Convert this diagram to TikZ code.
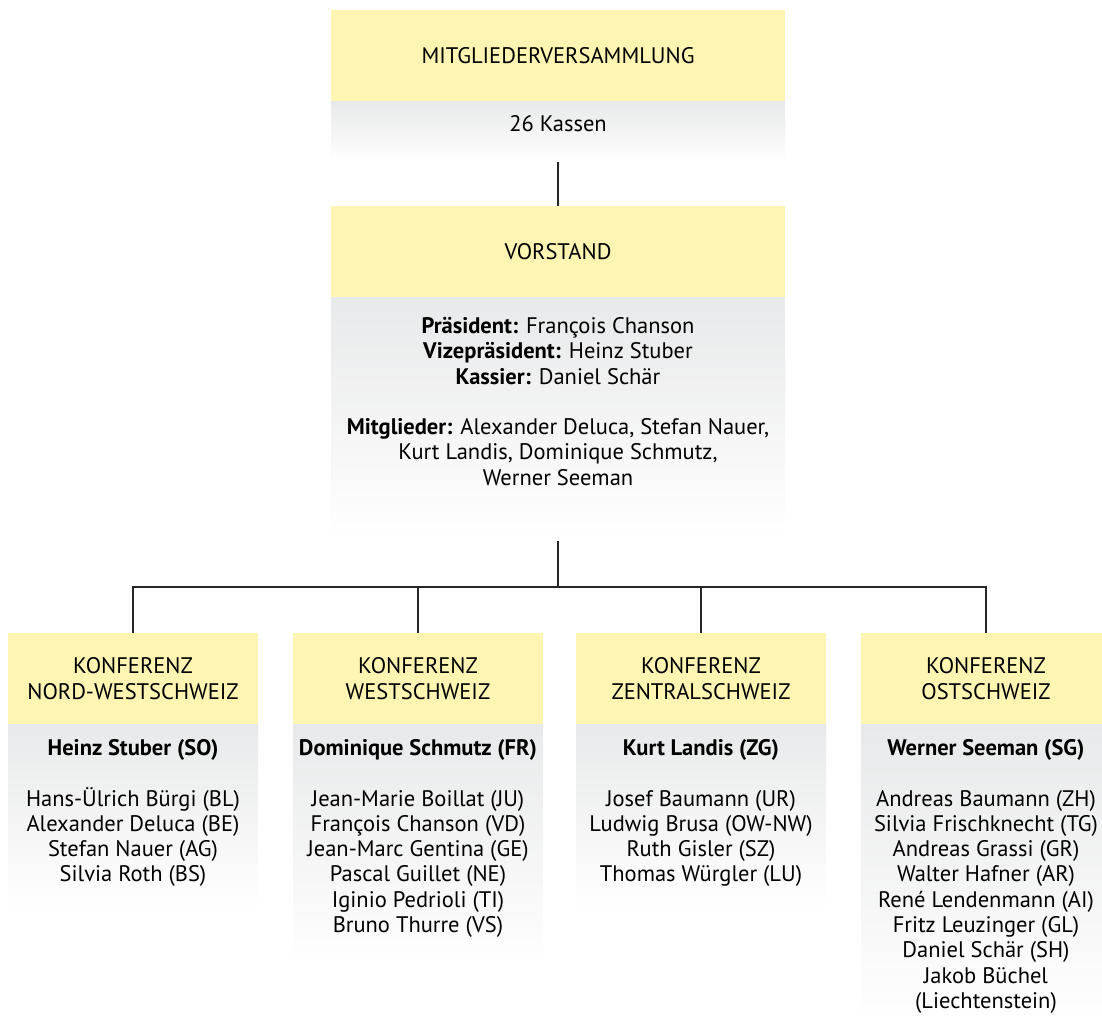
\documentclass[tikz,border=0pt]{standalone}
\usepackage{fontspec}
\setmainfont{PT Sans}
\usetikzlibrary{positioning}
\definecolor{headyellow}{RGB}{255,245,178}
\definecolor{panelgray}{RGB}{232,233,234}
\newcommand\orgfont{\fontsize{22.5}{25.3}\selectfont}
\newcommand\topstrut{\rule{0pt}{22pt}}
\begin{document}
\begin{tikzpicture}[x=1pt,y=-1pt,font=\orgfont,
    head/.style={fill=headyellow,inner sep=0pt,minimum height=91pt,align=center},
    panel/.style={top color=panelgray,bottom color=white,inner sep=0pt},
    txt/.style={anchor=north,align=center,inner sep=0pt},
    link/.style={line width=1.2pt,draw=black!85}]
    \useasboundingbox (0,0) rectangle (1102,1015);
    \clip (0,0) rectangle (1102,1015);
    % Mitgliederversammlung
    \node[head,minimum width=454pt] (mv) at (558,55.5) {MITGLIEDERVERSAMMLUNG};
    \node[panel,minimum width=454pt,minimum height=60pt,below=0pt of mv] (mvp) {};
    \node[txt] (kassen) at ([yshift=-8pt]mvp.north) {\topstrut 26 Kassen};
    % Vorstand
    \node[head,minimum width=454pt] (vs) at (558,251.5) {VORSTAND};
    \node[panel,minimum width=454pt,minimum height=243pt,below=0pt of vs] (vsp) {};
    \node[txt] (vstext) at ([yshift=-14pt]vsp.north) {\topstrut\textbf{Präsident:} François Chanson\\
        \textbf{Vizepräsident:} Heinz Stuber\\ \textbf{Kassier:} Daniel Schär\\[25.3pt]
        \textbf{Mitglieder:} Alexander Deluca, Stefan Nauer,\\ Kurt Landis, Dominique Schmutz,\\ Werner Seeman};
    % Konferenzen
    \foreach \k/\x/\region/\h in {1/133/NORD-WESTSCHWEIZ/186,2/418/WESTSCHWEIZ/241,
        3/701/ZENTRALSCHWEIZ/186,4/986/OSTSCHWEIZ/300}{
        \node[head,minimum width=250pt] (k\k) at (\x,678.5) {KONFERENZ\\\region};
        \node[panel,minimum width=250pt,minimum height=\h pt,below=0pt of k\k] (kp\k) {};
    }
    \node[txt] (kt1) at ([yshift=-9pt]kp1.north) {\topstrut\textbf{Heinz Stuber (SO)}\\[25.3pt]
        Hans-Ülrich Bürgi (BL)\\ Alexander Deluca (BE)\\ Stefan Nauer (AG)\\ Silvia Roth (BS)};
    \node[txt] (kt2) at ([yshift=-9pt]kp2.north) {\topstrut\textbf{Dominique Schmutz (FR)}\\[25.3pt]
        Jean-Marie Boillat (JU)\\ François Chanson (VD)\\ Jean-Marc Gentina (GE)\\
        Pascal Guillet (NE)\\ Iginio Pedrioli (TI)\\ Bruno Thurre (VS)};
    \node[txt] (kt3) at ([yshift=-9pt]kp3.north) {\topstrut\textbf{Kurt Landis (ZG)}\\[25.3pt]
        Josef Baumann (UR)\\ Ludwig Brusa (OW-NW)\\ Ruth Gisler (SZ)\\ Thomas Würgler (LU)};
    \node[txt] (kt4) at ([yshift=-9pt]kp4.north) {\topstrut\textbf{Werner Seeman (SG)}\\[25.3pt]
        Andreas Baumann (ZH)\\ Silvia Frischknecht (TG)\\ Andreas Grassi (GR)\\
        Walter Hafner (AR)\\ René Lendenmann (AI)\\ Fritz Leuzinger (GL)\\
        Daniel Schär (SH)\\ Jakob Büchel\\ (Liechtenstein)};
    % Verbindungen
    \coordinate (bus) at (558,587);
    \draw[link] (mvp.south) -- (vs.north);
    \draw[link] (vsp.south) -- (bus);
    \draw[link] (k1.north) |- (bus) -| (k4.north);
    \draw[link] (k2.north) -- (k2.north |- bus);
    \draw[link] (k3.north) -- (k3.north |- bus);
\end{tikzpicture}
\end{document}
